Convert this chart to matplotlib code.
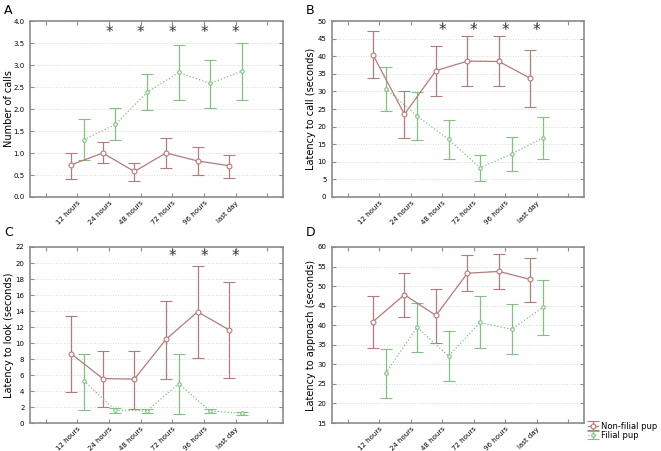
import numpy as np
import matplotlib
matplotlib.use('Agg')
import matplotlib.pyplot as plt

labels = ['12 hours', '24 hours', '48 hours', '72 hours', '96 hours', 'last day']

# panel A: number of calls
calls_nf = [0.73, 1.00, 0.58, 1.00, 0.82, 0.71]
calls_nf_hi = [1.00, 1.26, 0.78, 1.35, 1.14, 0.96]
calls_nf_lo = [0.41, 0.77, 0.37, 0.67, 0.51, 0.43]
calls_f = [1.30, 1.65, 2.38, 2.83, 2.58, 2.86]
calls_f_hi = [1.77, 2.02, 2.80, 3.46, 3.12, 3.50]
calls_f_lo = [0.83, 1.29, 1.98, 2.20, 2.03, 2.21]

# panel B: latency to call
call_nf = [40.4, 23.5, 35.9, 38.6, 38.5, 33.7]
call_nf_hi = [47.1, 30.2, 43.0, 45.8, 45.6, 41.9]
call_nf_lo = [33.8, 16.7, 28.8, 31.6, 31.4, 25.7]
call_f = [30.8, 23.0, 16.4, 8.3, 12.2, 16.8]
call_f_hi = [36.9, 29.8, 22.0, 11.8, 17.0, 22.6]
call_f_lo = [24.4, 16.1, 10.8, 4.6, 7.5, 10.8]

# panel C: latency to look
look_nf = [8.66, 5.56, 5.48, 10.46, 13.9, 11.63]
look_nf_hi = [13.35, 8.95, 9.04, 15.3, 19.6, 17.57]
look_nf_lo = [3.93, 2.05, 1.8, 5.56, 8.08, 5.6]
look_f = [5.27, 1.59, 1.51, 4.9, 1.5, 1.21]
look_f_hi = [8.58, 1.88, 1.76, 8.58, 1.8, 1.42]
look_f_lo = [1.67, 1.26, 1.26, 1.13, 1.2, 1.0]

# panel D: latency to approach
appr_nf = [40.9, 47.8, 42.5, 53.3, 53.75, 51.7]
appr_nf_hi = [47.4, 53.3, 49.2, 57.9, 58.2, 57.3]
appr_nf_lo = [34.3, 42.0, 35.4, 48.7, 49.3, 45.9]
appr_f = [27.7, 39.5, 32.1, 40.7, 38.95, 44.6]
appr_f_hi = [34.0, 45.8, 38.6, 47.5, 45.3, 51.5]
appr_f_lo = [21.4, 33.1, 25.7, 34.1, 32.6, 37.5]

stars_A = [1, 2, 3, 4, 5]
stars_B = [2, 3, 4, 5]
stars_C = [3, 4, 5]

RED = '#b57a7a'
GREEN = '#80c080'
SPINE = '#8c8c8c'

fig = plt.figure(figsize=(6.61, 4.51), dpi=100)
W, H = 661.0, 451.0


def add_ax(l, t, r, b):
    return fig.add_axes([l / W, 1 - b / H, (r - l) / W, (b - t) / H])


def panel(ax, nf, nf_hi, nf_lo, f, f_hi, f_lo, ylim, ystep, ylabel, stars, star_y):
    x = np.arange(1, len(labels) + 1)
    nf = np.array(nf); f = np.array(f)
    ax.errorbar(x - 0.2, nf, yerr=[nf - np.array(nf_lo), np.array(nf_hi) - nf],
                color=RED, lw=0.9, ls='-', marker='o', ms=3.5, mfc='white',
                mec=RED, mew=0.8, capsize=4, elinewidth=0.9, capthick=0.9,
                label='Non-filial pup', zorder=3)
    ax.errorbar(x + 0.2, f, yerr=[f - np.array(f_lo), np.array(f_hi) - f],
                color=GREEN, lw=0.9, ls=':', marker='o', ms=2.5, mfc='white',
                mec=GREEN, mew=0.8, capsize=4, elinewidth=0.9, capthick=0.9,
                label='Filial pup', zorder=3)
    for s in stars:
        ax.text(x[s], star_y, '*', ha='center', va='center', fontsize=11,
                color='#333333')
    ax.set_xlim(-0.5, 7.5)
    ax.set_ylim(*ylim)
    ax.set_xticks(np.arange(0, 8))
    ax.set_xticklabels([''] + labels + [''], rotation=45, ha='right',
                       rotation_mode='anchor', fontsize=5)
    ax.set_yticks(np.arange(ylim[0], ylim[1] + ystep / 2, ystep))
    ax.tick_params(axis='y', labelsize=5, length=3, direction='in',
                   right=True, color=SPINE, pad=4)
    ax.tick_params(axis='x', length=3, direction='in', top=True, color=SPINE,
                   pad=2)
    if ystep < 1:
        ax.yaxis.set_major_formatter(matplotlib.ticker.FormatStrFormatter('%.1f'))
    ax.grid(axis='y', color='#d8d8d8', ls=':', lw=0.7)
    ax.set_axisbelow(True)
    for sp in ax.spines.values():
        sp.set_color(SPINE)
        sp.set_linewidth(1.2)
    ax.set_ylabel(ylabel, fontsize=7)
    ax.yaxis.set_label_coords(-16 / 253, 0.5)


axA = add_ax(30, 21, 283, 197)
panel(axA, calls_nf, calls_nf_hi, calls_nf_lo, calls_f, calls_f_hi, calls_f_lo,
      (0, 4.0), 0.5, 'Number of calls', stars_A, 3.75)

axB = add_ax(332, 21, 584, 197)
panel(axB, call_nf, call_nf_hi, call_nf_lo, call_f, call_f_hi, call_f_lo,
      (0, 50), 5, 'Latency to call (seconds)', stars_B, 47.2)

axC = add_ax(30, 247, 283, 423)
panel(axC, look_nf, look_nf_hi, look_nf_lo, look_f, look_f_hi, look_f_lo,
      (0, 22), 2, 'Latency to look (seconds)', stars_C, 20.8)

axD = add_ax(332, 247, 584, 423)
panel(axD, appr_nf, appr_nf_hi, appr_nf_lo, appr_f, appr_f_hi, appr_f_lo,
      (15, 60), 5, 'Latency to approach (seconds)', [], 0)

axD.legend(loc='lower left', bbox_to_anchor=(1.0, -0.12), frameon=False,
           fontsize=6, handlelength=1.2, handletextpad=0.3, labelspacing=0.05,
           borderaxespad=0.1)

for lab, (px, py) in zip('ABCD', [(4, 11), (306, 11), (4, 233), (306, 233)]):
    fig.text(px / W, 1 - py / H, lab, fontsize=9, ha='left', va='center')

fig.savefig('out.png', dpi=100)
